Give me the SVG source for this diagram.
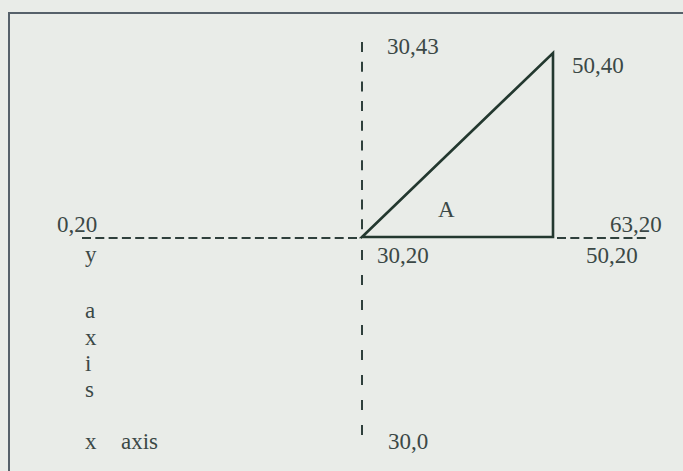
<svg xmlns="http://www.w3.org/2000/svg" width="683" height="471" viewBox="0 0 683 471">
<style>
text{font-family:"Liberation Serif","Times New Roman",serif;font-size:23px;fill:#3b4846}
.frame{stroke:#56616a;stroke-width:2;fill:none}
.dash-h{stroke:#2f403c;stroke-width:2;stroke-dasharray:9 4.3;fill:none}
.dash-v{stroke:#2f403c;stroke-width:2;fill:none}
.tri{stroke:#23382f;stroke-width:2.6;fill:none;stroke-linejoin:miter}
</style>
<rect x="0" y="0" width="683" height="471" fill="#e9ece8"/>
<g id="frame">
<path class="frame" d="M9,471 V13 H683"/>
</g>
<g id="axes">
<line class="dash-h" x1="82" y1="238" x2="362" y2="238"/>
<line class="dash-h" x1="557" y1="238" x2="648" y2="238"/>
<line class="dash-v" x1="362" y1="42" x2="362" y2="236" stroke-dasharray="10 9.7"/>
<line class="dash-v" x1="362" y1="250" x2="362" y2="446" stroke-dasharray="10 15"/>
</g>
<g id="triangle">
<path class="tri" d="M362,237 L553,53 L553,237 Z"/>
<text x="438" y="217">A</text>
</g>
<g id="labels">
<text x="387" y="54">30,43</text>
<text x="572" y="73">50,40</text>
<text x="57" y="232">0,20</text>
<text x="610" y="232">63,20</text>
<text x="377" y="263">30,20</text>
<text x="586" y="263">50,20</text>
<text x="85" y="262">y</text>
<text x="85" y="318">a</text>
<text x="85" y="345">x</text>
<text x="85" y="371">i</text>
<text x="85" y="397">s</text>
<text x="85" y="449">x</text>
<text x="121" y="449">axis</text>
<text x="388" y="449">30,0</text>
</g>
</svg>
